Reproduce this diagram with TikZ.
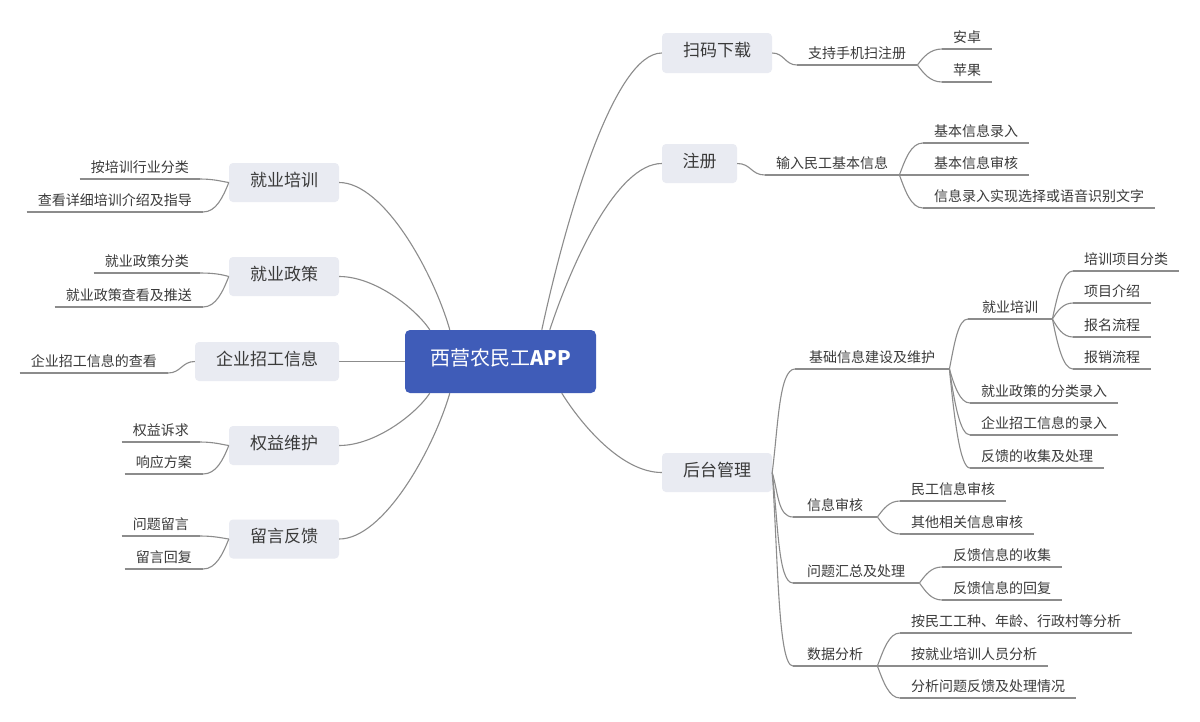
\documentclass[tikz,border=0pt]{standalone}
\usepackage{fontspec}
\setmainfont{Noto Sans CJK SC}
\definecolor{rootblue}{HTML}{3F5CB8}
\definecolor{boxfill}{HTML}{E9EBF2}
\definecolor{txt}{HTML}{3A3A3A}
\definecolor{linec}{HTML}{8C8C8C}
\begin{document}
\begin{tikzpicture}[x=1pt,y=-1pt,
 conn/.style={draw=linec,line width=1.1pt},
 root/.style={fill=rootblue,rounded corners=5pt,text=white,font=\fontsize{20}{24}\selectfont,minimum width=191pt,minimum height=63pt,inner sep=0pt,text height=0.76em,text depth=0pt},
 topic/.style={fill=boxfill,rounded corners=4pt,text=txt,font=\fontsize{17}{20}\selectfont,minimum height=39pt,inner sep=0pt,text height=0.76em,text depth=0pt},
 leaf/.style={text=txt,font=\fontsize{14}{16}\selectfont,inner xsep=11pt,inner ysep=3pt,text height=10pt,text depth=3pt},
 mid/.style={leaf,inner xsep=14pt},
]
\path[use as bounding box,fill=white] (0,0) rectangle (1200,721);

% main nodes
\node[root] (root) at (500.5,361.5) {西营农民工\textbf{APP}};
\node[topic,minimum width=110pt,minimum height=40pt] (t1) at (717,53) {扫码下载};
\node[topic,minimum width=75pt] (t2) at (699.5,163.5) {注册};
\node[topic,minimum width=110pt] (t3) at (717,472.5) {后台管理};
\node[topic,minimum width=110pt] (t4) at (284,182.5) {就业培训};
\node[topic,minimum width=110pt] (t5) at (284,276.5) {就业政策};
\node[topic,minimum width=144pt] (t6) at (267,361.5) {企业招工信息};
\node[topic,minimum width=110pt] (t7) at (284,445.5) {权益维护};
\node[topic,minimum width=110pt] (t8) at (284,539) {留言反馈};

% right leaves
\node[leaf,anchor=south west] (r1) at (797,65) {支持手机扫注册};
\node[leaf,anchor=south west] (r1a) at (942,49) {安卓};
\node[leaf,anchor=south west] (r1b) at (942,82) {苹果};
\node[leaf,anchor=south west] (r2) at (765,175) {输入民工基本信息};
\node[leaf,anchor=south west] (r2a) at (923,143) {基本信息录入};
\node[leaf,anchor=south west] (r2b) at (923,175) {基本信息审核};
\node[leaf,anchor=south west] (r2c) at (923,208) {信息录入实现选择或语音识别文字};

\node[mid,anchor=south west] (b1) at (795,369) {基础信息建设及维护};
\node[mid,anchor=south west] (b1a) at (968,319) {就业培训};
\node[leaf,anchor=south west] (b1a1) at (1073,271) {培训项目分类};
\node[leaf,anchor=south west] (b1a2) at (1073,303) {项目介绍};
\node[leaf,anchor=south west] (b1a3) at (1073,337) {报名流程};
\node[leaf,anchor=south west] (b1a4) at (1073,369) {报销流程};
\node[leaf,anchor=south west] (b1b) at (970,403) {就业政策的分类录入};
\node[leaf,anchor=south west] (b1c) at (970,435) {企业招工信息的录入};
\node[leaf,anchor=south west] (b1d) at (970,468) {反馈的收集及处理};
\node[mid,anchor=south west] (b2) at (793,517) {信息审核};
\node[leaf,anchor=south west] (b2a) at (900,501) {民工信息审核};
\node[leaf,anchor=south west] (b2b) at (900,534) {其他相关信息审核};
\node[mid,anchor=south west] (b3) at (793,583) {问题汇总及处理};
\node[leaf,anchor=south west] (b3a) at (942,567) {反馈信息的收集};
\node[leaf,anchor=south west] (b3b) at (942,600) {反馈信息的回复};
\node[mid,anchor=south west] (b4) at (793,666) {数据分析};
\node[leaf,anchor=south west] (b4a) at (900,633) {按民工工种、年龄、行政村等分析};
\node[leaf,anchor=south west] (b4b) at (900,666) {按就业培训人员分析};
\node[leaf,anchor=south west] (b4c) at (900,698) {分析问题反馈及处理情况};

% left leaves
\node[leaf,anchor=south east] (l1a) at (200,179) {按培训行业分类};
\node[leaf,anchor=south east] (l1b) at (203,212) {查看详细培训介绍及指导};
\node[leaf,anchor=south east] (l2a) at (200,273) {就业政策分类};
\node[leaf,anchor=south east] (l2b) at (203,307) {就业政策查看及推送};
\node[leaf,anchor=south east] (l3a) at (168,373) {企业招工信息的查看};
\node[leaf,anchor=south east] (l4a) at (200,442) {权益诉求};
\node[leaf,anchor=south east] (l4b) at (203,474) {响应方案};
\node[leaf,anchor=south east] (l5a) at (200,536) {问题留言};
\node[leaf,anchor=south east] (l5b) at (203,569) {留言回复};

% underlines
\foreach \n in {r1,r1a,r1b,r2,r2a,r2b,r2c,b1,b1a,b1a1,b1a2,b1a3,b1a4,b1b,b1c,b1d,b2,b2a,b2b,b3,b3a,b3b,b4,b4a,b4b,b4c,l1a,l1b,l2a,l2b,l3a,l4a,l4b,l5a,l5b}
  \draw[conn] (\n.south west) -- (\n.south east);

% root to topics
\draw[conn] ([xshift=137pt]root.north west) .. controls +(24,-111) and +(-48,0) .. (t1.west);
\draw[conn] ([xshift=145pt]root.north west) .. controls +(22,-67) and +(-45,0) .. (t2.west);
\draw[conn] ([xshift=157pt]root.south west) .. controls +(20,32) and +(-40,0) .. (t3.west);
\draw[conn] ([xshift=45pt]root.north west) .. controls +(-17,-59) and +(44,0) .. (t4.east);
\draw[conn] ([xshift=25pt]root.north west) .. controls +(-14,-21) and +(36,0) .. (t5.east);
\draw[conn] (root.west) -- (t6.east);
\draw[conn] ([xshift=25pt]root.south west) .. controls +(-14,21) and +(36,0) .. (t7.east);
\draw[conn] ([xshift=45pt]root.south west) .. controls +(-17,58) and +(44,0) .. (t8.east);

% right branches
\draw[conn] (t1.east) .. controls +(12,0) and +(-12,0) .. (r1.south west);
\draw[conn] (r1.south east) .. controls +(6,-8) and +(-12,0) .. (r1a.south west);
\draw[conn] (r1.south east) .. controls +(6,8) and +(-12,0) .. (r1b.south west);
\draw[conn] (t2.east) .. controls +(14,0) and +(-14,0) .. (r2.south west);
\draw[conn] (r2.south east) .. controls +(6,-16) and +(-12,0) .. (r2a.south west);
\draw[conn] (r2.south east) -- (r2b.south west);
\draw[conn] (r2.south east) .. controls +(6,16) and +(-12,0) .. (r2c.south west);

\draw[conn] (t3.east) .. controls +(6,-46) and +(-16,0) .. (b1.south west);
\draw[conn] (t3.east) .. controls +(6,20) and +(-15,0) .. (b2.south west);
\draw[conn] (t3.east) .. controls +(6,50) and +(-15,0) .. (b3.south west);
\draw[conn] (t3.east) .. controls +(6,87) and +(-15,0) .. (b4.south west);

\draw[conn] (b1.south east) .. controls +(5,-25) and +(-10,0) .. (b1a.south west);
\draw[conn] (b1.south east) .. controls +(5,17) and +(-10,0) .. (b1b.south west);
\draw[conn] (b1.south east) .. controls +(5,33) and +(-10,0) .. (b1c.south west);
\draw[conn] (b1.south east) .. controls +(5,50) and +(-10,0) .. (b1d.south west);
\draw[conn] (b1a.south east) .. controls +(5,-24) and +(-10,0) .. (b1a1.south west);
\draw[conn] (b1a.south east) .. controls +(5,-8) and +(-10,0) .. (b1a2.south west);
\draw[conn] (b1a.south east) .. controls +(5,9) and +(-10,0) .. (b1a3.south west);
\draw[conn] (b1a.south east) .. controls +(5,25) and +(-10,0) .. (b1a4.south west);

\draw[conn] (b2.south east) .. controls +(6,-8) and +(-11,0) .. (b2a.south west);
\draw[conn] (b2.south east) .. controls +(6,8) and +(-11,0) .. (b2b.south west);
\draw[conn] (b3.south east) .. controls +(6,-8) and +(-11,0) .. (b3a.south west);
\draw[conn] (b3.south east) .. controls +(6,8) and +(-11,0) .. (b3b.south west);
\draw[conn] (b4.south east) .. controls +(6,-16) and +(-11,0) .. (b4a.south west);
\draw[conn] (b4.south east) -- (b4b.south west);
\draw[conn] (b4.south east) .. controls +(6,16) and +(-11,0) .. (b4c.south west);

% left branches
\draw[conn] (t4.west) .. controls +(-7,-1) and +(14,0) .. (l1a.south east);
\draw[conn] (t4.west) .. controls +(-6,15) and +(13,0) .. (l1b.south east);
\draw[conn] (t5.west) .. controls +(-7,-2) and +(14,0) .. (l2a.south east);
\draw[conn] (t5.west) .. controls +(-6,15) and +(13,0) .. (l2b.south east);
\draw[conn] (t6.west) .. controls +(-13,0) and +(13,0) .. (l3a.south east);
\draw[conn] (t7.west) .. controls +(-7,-1) and +(14,0) .. (l4a.south east);
\draw[conn] (t7.west) .. controls +(-6,15) and +(13,0) .. (l4b.south east);
\draw[conn] (t8.west) .. controls +(-7,-1) and +(14,0) .. (l5a.south east);
\draw[conn] (t8.west) .. controls +(-6,15) and +(13,0) .. (l5b.south east);
\end{tikzpicture}
\end{document}
